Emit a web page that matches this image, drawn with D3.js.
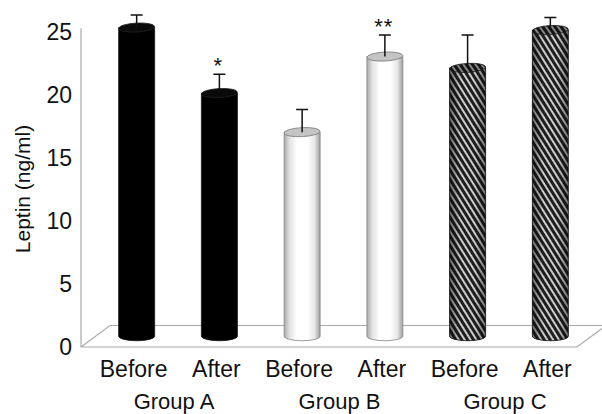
<!DOCTYPE html>
<html>
<head>
<meta charset="utf-8">
<script src="https://cdn.jsdelivr.net/npm/d3@7"></script>
<style>
  body { margin: 0; background: #fff; }
  text { font-family: "Liberation Sans", Arial, sans-serif; fill: #111; }
</style>
</head>
<body>
<div id="chart"></div>
<script>
// data
var conditions = ["Before", "After", "Before", "After", "Before", "After"];
var groups = ["Group A", "Group B", "Group C"];
var leptin = [24.5, 19.3, 16.2, 22.2, 21.3, 24.3];
var errors = [1.0, 1.5, 1.8, 1.7, 2.6, 1.0];
var marks = ["", "*", "", "**", "", ""];
var fills = ["black", "black", "white", "white", "hatch", "hatch"];
var yTicks = [0, 5, 10, 15, 20, 25];

var width = 602,
    height = 414;

// front plane of the floor and the depth shift of the 3-D box
var frontLeft = 81, frontRight = 577;
var depthX = 29, depthY = -21.5;

var svg = d3.select("#chart").append("svg")
    .attr("width", width)
    .attr("height", height);

var y = d3.scaleLinear()
    .domain([0, 25])
    .range([347, 32]);

// bars stand in the middle of the floor depth
var x = d3.scaleBand()
    .domain(d3.range(leptin.length))
    .range([frontLeft + depthX / 2, frontRight + depthX / 2])
    .paddingInner(0.565)
    .paddingOuter(0.28);

var barY = function(v) { return y(v) + depthY / 2; };
var rx = x.bandwidth() / 2, ry = 4.5;
var cx = function(i) { return x(i) + rx; };

var defs = svg.append("defs");

// white cylinder shading
var grad = defs.append("linearGradient").attr("id", "cyl");
[[0, "#a8a8a8"], [0.15, "#e2e2e2"], [0.35, "#ffffff"], [0.65, "#ffffff"], [0.85, "#e6e6e6"], [1, "#9c9c9c"]]
  .forEach(function(s) {
    grad.append("stop").attr("offset", s[0]).attr("stop-color", s[1]);
  });

// shading laid over the hatch
var shade = defs.append("linearGradient").attr("id", "shade");
[[0, 0.5], [0.3, 0], [0.7, 0], [1, 0.45]].forEach(function(s) {
  shade.append("stop").attr("offset", s[0]).attr("stop-color", "#000").attr("stop-opacity", s[1]);
});

var hatch = defs.append("pattern")
    .attr("id", "hatch")
    .attr("patternUnits", "userSpaceOnUse")
    .attr("width", 5).attr("height", 5)
    .attr("patternTransform", "rotate(-32)");
hatch.append("rect").attr("width", 5).attr("height", 5).attr("fill", "#cccccc");
hatch.append("rect").attr("width", 3).attr("height", 5).attr("fill", "#1e1e1e");

// floor
var floorY = y(0);
svg.append("path")
    .attr("d", "M" + frontLeft + "," + floorY +
               "L" + frontRight + "," + floorY +
               "L" + (frontRight + depthX) + "," + (floorY + depthY) +
               "M" + frontLeft + "," + floorY +
               "L" + (frontLeft + depthX) + "," + (floorY + depthY) +
               "L" + (frontRight + depthX + 10) + "," + (floorY + depthY))
    .attr("fill", "none")
    .attr("stroke", "#aaa")
    .attr("stroke-width", 1.2);

// value axis
svg.append("line")
    .attr("x1", frontLeft).attr("x2", frontLeft)
    .attr("y1", y(0)).attr("y2", y(25.3))
    .attr("stroke", "#aaa")
    .attr("stroke-width", 1.2);

svg.append("g").selectAll("text")
    .data(yTicks)
  .enter().append("text")
    .attr("x", 72)
    .attr("y", function(d) { return y(d); })
    .attr("dy", "0.36em")
    .attr("text-anchor", "end")
    .style("font-size", "23px")
    .text(function(d) { return d; });

svg.append("text")
    .attr("transform", "translate(30,189) rotate(-90)")
    .attr("text-anchor", "middle")
    .style("font-size", "21px")
    .text("Leptin (ng/ml)");

// cylinders, bound to bar indices so filtered selections keep positions
var bars = svg.selectAll(".bar")
    .data(d3.range(leptin.length))
  .enter().append("g")
    .attr("class", "bar");

function bodyPath(i) {
  var x0 = x(i), x1 = x(i) + x.bandwidth();
  var yt = barY(leptin[i]), yb = barY(0);
  return "M" + x0 + "," + yt + "L" + x0 + "," + yb +
         "A" + rx + "," + ry + " 0 0 0 " + x1 + "," + yb +
         "L" + x1 + "," + yt + "Z";
}

bars.append("path")
    .attr("d", bodyPath)
    .attr("fill", function(i) {
      return fills[i] == "black" ? "#000" : fills[i] == "white" ? "url(#cyl)" : "url(#hatch)";
    })
    .attr("stroke", function(i) { return fills[i] == "white" ? "#888" : "#111"; })
    .attr("stroke-width", 0.8);

var hatched = bars.filter(function(i) { return fills[i] == "hatch"; });

hatched.append("path")
    .attr("d", bodyPath)
    .attr("fill", "url(#shade)");

bars.append("ellipse")
    .attr("cx", cx)
    .attr("cy", function(i) { return barY(leptin[i]); })
    .attr("rx", rx)
    .attr("ry", ry)
    .attr("transform", function(i) { return "rotate(-3," + cx(i) + "," + barY(leptin[i]) + ")"; })
    .attr("fill", function(i) {
      return fills[i] == "black" ? "#0a0a0a" : fills[i] == "white" ? "#c4c4c4" : "url(#hatch)";
    })
    .attr("stroke", function(i) { return fills[i] == "white" ? "#777" : "#222"; })
    .attr("stroke-width", 0.8);

hatched.append("ellipse")
    .attr("cx", cx)
    .attr("cy", function(i) { return barY(leptin[i]); })
    .attr("rx", rx)
    .attr("ry", ry)
    .attr("transform", function(i) { return "rotate(-3," + cx(i) + "," + barY(leptin[i]) + ")"; })
    .attr("fill", "#000")
    .attr("fill-opacity", 0.35);

// error bars
var cap = 6;
bars.append("path")
    .attr("d", function(i) {
      var top = barY(leptin[i] + errors[i]);
      return "M" + cx(i) + "," + barY(leptin[i]) + "V" + top +
             "M" + (cx(i) - cap) + "," + top + "H" + (cx(i) + cap);
    })
    .attr("fill", "none")
    .attr("stroke", "#111")
    .attr("stroke-width", 1.5);

bars.append("text")
    .attr("x", function(i) { return cx(i) - 1; })
    .attr("y", function(i) { return barY(leptin[i] + errors[i]) - 13; })
    .attr("dy", "0.55em")
    .attr("text-anchor", "middle")
    .style("font-size", "22px")
    .style("letter-spacing", "1px")
    .text(function(i) { return marks[i]; });

// category labels
svg.append("g").selectAll("text")
    .data(conditions)
  .enter().append("text")
    .attr("x", function(d, i) { return cx(i) - 3; })
    .attr("y", 377)
    .attr("text-anchor", "middle")
    .style("font-size", "23px")
    .text(function(d) { return d; });

svg.append("g").selectAll("text")
    .data(groups)
  .enter().append("text")
    .attr("x", function(d, i) { return (cx(2 * i) + cx(2 * i + 1)) / 2 - 4; })
    .attr("y", 409)
    .attr("text-anchor", "middle")
    .style("font-size", "22px")
    .text(function(d) { return d; });
</script>
</body>
</html>
